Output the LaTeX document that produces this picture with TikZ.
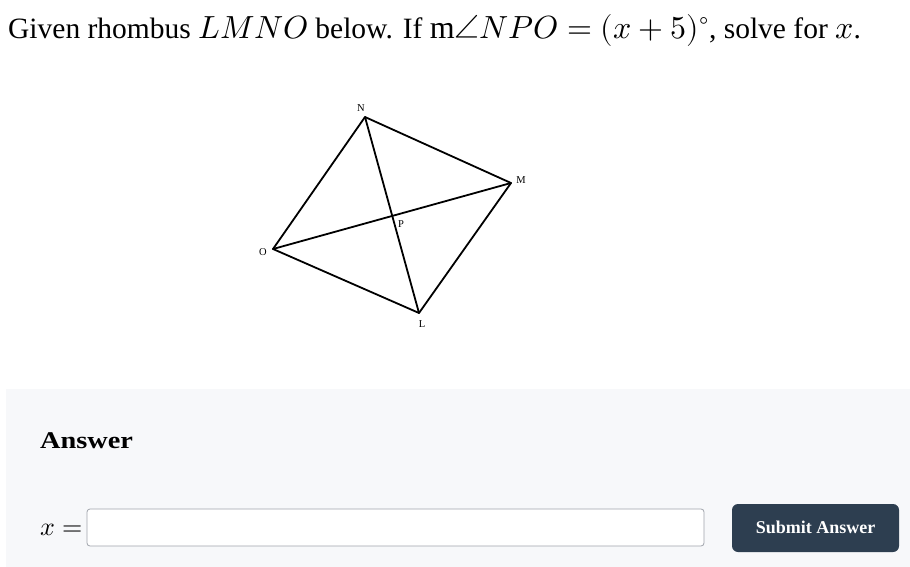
\documentclass[tikz,border=0pt]{standalone}
\usepackage{fontspec}
\usepackage{unicode-math}
\setmainfont{Liberation Serif}
\setmathfont{Latin Modern Math}
\newcommand{\titlemath}[1]{{\fontsize{32}{36}\selectfont$#1$}}
\begin{document}
\begin{tikzpicture}[x=1pt,y=-1pt,
  edge/.style={line width=1.8pt,line cap=round,line join=round},
  ptlabel/.style={font=\fontsize{10.5}{12}\selectfont,inner sep=0pt}]
\useasboundingbox (0,0) rectangle (910,567);
\definecolor{panel}{HTML}{F7F8FA}
\definecolor{btn}{HTML}{2D3E50}
\definecolor{boxborder}{HTML}{A0A4AC}
% title
\node[anchor=base west,inner sep=0pt,font=\fontsize{29.5}{32}\selectfont] (title) at (8,38.5)
  {Given rhombus \titlemath{LMNO} below. If \titlemath{\mathrm{m}\angle NPO = (x+5)^\circ}, solve for \titlemath{x}.};
% rhombus
\coordinate (N) at (365,117);
\coordinate (M) at (511,183);
\coordinate (O) at (273,249);
\coordinate (L) at (419,313);
\draw[edge] (N) -- (M) -- (L) -- (O) -- cycle;
\draw[edge] (N) -- (L);
\draw[edge] (O) -- (M);
\node[ptlabel] (nN) at (361,108) {N};
\node[ptlabel] (nM) at (521,180) {M};
\node[ptlabel] (nO) at (263,252) {O};
\node[ptlabel] (nP) at (401,224) {P};
\node[ptlabel] (nL) at (422,324) {L};
% answer panel
\fill[panel] (6,389) rectangle (910,567);
\node[anchor=base west,inner sep=0pt,font=\fontsize{24}{26}\selectfont\bfseries] (ans) at (40,448) {\scalebox{1.18}[1]{Answer}};
\node[anchor=base west,inner sep=0pt,font=\fontsize{26}{28}\selectfont] (xeq) at (40,535) {$x =$};
\draw[boxborder,fill=white,line width=0.8pt,rounded corners=3pt] (87,509) rectangle (704,546);
\fill[btn,rounded corners=6pt] (732,504) rectangle (899,552);
\node[anchor=base,inner sep=0pt,text=white,font=\fontsize{18}{20}\selectfont\bfseries] (sub) at (815.5,533) {Submit Answer};
\end{tikzpicture}
\end{document}
